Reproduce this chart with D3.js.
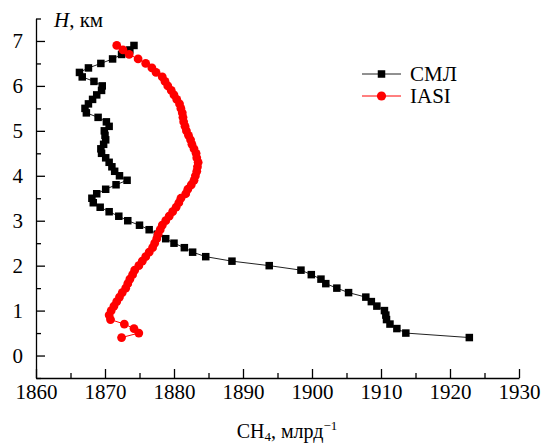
<!DOCTYPE html>
<html>
<head>
<meta charset="utf-8">
<script src="https://cdn.jsdelivr.net/npm/d3@7"></script>
<style>
  html, body { margin: 0; padding: 0; background: #fff; }
  svg { display: block; }
  svg text { font-family: "Times New Roman", "Liberation Serif", "DejaVu Serif", "Noto Serif", FreeSerif, serif; }
</style>
</head>
<body>
<svg id="chart" width="552" height="443"></svg>
<script>
// Heights (km) shared by both profiles
const heights = [0.4,0.5,0.6,0.7,0.8,0.9,1.0,1.1,1.2,1.3,1.4,1.5,1.6,1.7,1.8,1.9,2.0,2.1,2.2,2.3,2.4,2.5,2.6,2.7,2.8,2.9,
  3.0,3.1,3.2,3.3,3.4,3.5,3.6,3.7,3.8,3.9,4.0,4.1,4.2,4.3,4.4,4.5,4.6,4.7,4.8,4.9,5.0,5.1,5.2,5.3,5.4,5.5,5.6,5.7,5.8,5.9,
  6.0,6.1,6.2,6.3,6.4,6.5,6.6,6.7,6.8,6.9];

// СМЛ (lidar) CH4, ppb
const smlValues = [1922.8,1913.6,1912.3,1911.3,1910.8,1910.7,1910.5,1909.4,1908.6,1907.8,1905.3,1903.6,1902.0,1901.3,1899.9,1898.4,
  1893.8,1888.4,1884.6,1882.7,1881.5,1880.0,1878.8,1877.6,1876.4,1875.0,
  1873.3,1872.0,1870.6,1869.3,1868.3,1868.1,1868.8,1870.1,1871.6,1873.2,1872.1,1871.4,1871.0,1870.6,1870.1,1869.5,1869.4,1869.8,1870.1,1870.0,
  1869.9,1870.6,1870.2,1869.0,1867.3,1867.1,1867.6,1868.2,1868.8,1869.5,1869.6,1868.4,1866.7,1866.3,1867.6,1869.4,1871.1,1872.4,1873.6,1874.2];

// IASI CH4, ppb
const iasiValues = [1872.4,1874.9,1874.2,1872.8,1870.8,1870.6,1870.9,1871.3,1871.7,1872.1,1872.5,1873.0,1873.3,1873.6,1874.0,1874.3,
  1874.9,1875.4,1875.9,1876.4,1876.9,1877.2,1877.5,1877.7,1878.0,1878.3,
  1878.8,1879.3,1879.8,1880.3,1880.7,1881.0,1881.7,1882.0,1882.5,1882.9,1883.1,1883.3,1883.4,1883.5,1883.3,1883.2,1882.9,1882.6,1882.4,1882.1,
  1881.8,1881.6,1881.4,1881.3,1881.2,1881.0,1880.8,1880.4,1880.0,1879.6,1879.1,1878.7,1878.3,1877.4,1876.8,1875.9,1874.8,1873.5,1872.6,1871.7];

const xMajorTicks = [1860,1870,1880,1890,1900,1910,1920,1930];
const xMinorTicks = [1865,1875,1885,1895,1905,1915,1925];
const yMajorTicks = [0,1,2,3,4,5,6,7];
const yMinorTicks = [-0.5,0.5,1.5,2.5,3.5,4.5,5.5,6.5,7.5];

const seriesNames = ["СМЛ", "IASI"];

const FONT = '"Times New Roman", "Liberation Serif", "DejaVu Serif", "Noto Serif", FreeSerif, serif';
const svg = d3.select("#chart");
const x = d3.scaleLinear().domain([1860, 1930]).range([36, 519]);
const y = d3.scaleLinear().domain([-0.5, 7.5]).range([378, 18.5]);

// Axes
svg.append("g").attr("transform", `translate(0,${y(-0.5)})`)
  .call(d3.axisBottom(x).tickValues(xMajorTicks).tickFormat(d3.format("d"))
    .tickSizeInner(-9).tickSizeOuter(0).tickPadding(6));
svg.append("g").attr("transform", `translate(0,${y(-0.5)})`)
  .call(d3.axisBottom(x).tickValues(xMinorTicks).tickFormat("").tickSizeInner(-5).tickSizeOuter(0))
  .call(g => g.select(".domain").remove());

svg.append("g").attr("transform", `translate(${x(1860)},0)`)
  .call(d3.axisLeft(y).tickValues(yMajorTicks).tickFormat(d3.format("d"))
    .tickSizeInner(-9).tickSizeOuter(0).tickPadding(13));
svg.append("g").attr("transform", `translate(${x(1860)},0)`)
  .call(d3.axisLeft(y).tickValues(yMinorTicks).tickFormat("").tickSizeInner(-5).tickSizeOuter(0))
  .call(g => g.select(".domain").remove());

svg.selectAll("g").attr("font-family", null);
svg.selectAll(".domain, .tick line").attr("stroke", "#000").attr("stroke-width", 1.3);
svg.selectAll(".tick text").style("font-family", FONT).attr("font-size", 21).attr("fill", "#000");

// Axis titles
const yt = svg.append("text").attr("x", 54).attr("y", 27).attr("font-size", 21).attr("fill", "#000").style("font-family", FONT);
yt.append("tspan").attr("font-style", "italic").text("H");
yt.append("tspan").text(", км");

const xt = svg.append("text").attr("x", 287).attr("y", 438).attr("text-anchor", "middle").attr("font-size", 20).attr("fill", "#000").style("font-family", FONT);
xt.append("tspan").text("CH");
xt.append("tspan").attr("font-size", 13).attr("dy", 3).text("4");
xt.append("tspan").attr("dy", -3).text(", млрд");
xt.append("tspan").attr("font-size", 13).attr("dy", -8).text("−1");

// Data
const sml = heights.map((h, i) => ({ h, v: smlValues[i] }));
const iasi = heights.map((h, i) => ({ h, v: iasiValues[i] }));
const line = d3.line().x(d => x(d.v)).y(d => y(d.h));

const sq = 7.5;
svg.append("path").datum(sml).attr("d", line).attr("fill", "none").attr("stroke", "#222").attr("stroke-width", 1);
svg.append("g").selectAll("rect").data(sml).join("rect")
  .attr("x", d => x(d.v) - sq / 2).attr("y", d => y(d.h) - sq / 2)
  .attr("width", sq).attr("height", sq).attr("fill", "#000");

svg.append("path").datum(iasi).attr("d", line).attr("fill", "none").attr("stroke", "#ff0000").attr("stroke-width", 1);
svg.append("g").selectAll("circle").data(iasi).join("circle")
  .attr("cx", d => x(d.v)).attr("cy", d => y(d.h)).attr("r", 4.4).attr("fill", "#ff0000");

// Legend
const legY = [74, 96];
[0, 1].forEach(i => {
  const g = svg.append("g").attr("transform", `translate(0,${legY[i]})`);
  g.append("line").attr("x1", 362).attr("x2", 401).attr("y1", 0).attr("y2", 0)
    .attr("stroke", i === 0 ? "#222" : "#ff0000").attr("stroke-width", 1);
  if (i === 0) {
    g.append("rect").attr("x", 381.5 - sq / 2).attr("y", -sq / 2).attr("width", sq).attr("height", sq).attr("fill", "#000");
  } else {
    g.append("circle").attr("cx", 381.5).attr("cy", 0).attr("r", 4.6).attr("fill", "#ff0000");
  }
  g.append("text").attr("x", 410).attr("y", 7).attr("font-size", 21).attr("fill", "#000")
    .style("font-family", FONT).text(seriesNames[i]);
});
</script>
</body>
</html>
